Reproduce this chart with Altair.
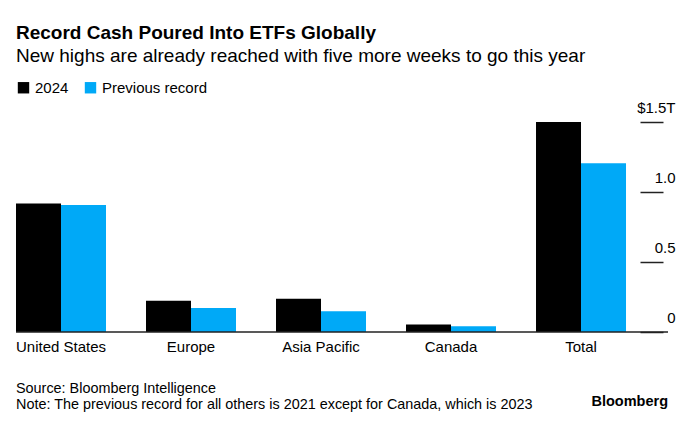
import altair as alt
import pandas as pd

regions = ["United States", "Europe", "Asia Pacific", "Canada", "Total"]
series_names = ["2024", "Previous record"]
values_2024 = [0.917, 0.223, 0.237, 0.053, 1.50]
values_prev = [0.907, 0.171, 0.149, 0.041, 1.205]
colors = ["#000000", "#00A9F7"]

title_text = "Record Cash Poured Into ETFs Globally"
subtitle_text = "New highs are already reached with five more weeks to go this year"
source_text = "Source: Bloomberg Intelligence"
note_text = "Note: The previous record for all others is 2021 except for Canada, which is 2023"
brand_text = "Bloomberg"

rows = []
for r, a, b in zip(regions, values_2024, values_prev):
    rows.append({"region": r, "series": series_names[0], "value": a})
    rows.append({"region": r, "series": series_names[1], "value": b})
df = pd.DataFrame(rows)

FONT = "Liberation Sans"
NB = "\u00a0"

bars = alt.Chart(df).mark_bar().encode(
    x=alt.X(
        "region:N",
        sort=regions,
        scale=alt.Scale(paddingInner=0.3077, paddingOuter=0.1615, align=0),
        axis=alt.Axis(
            title=None, ticks=False, domain=False, labelAngle=0,
            labelFontSize=15, labelColor="#000000", labelPadding=7, labelFont=FONT,
        ),
    ),
    xOffset=alt.XOffset("series:N", sort=series_names, scale=alt.Scale(paddingInner=0, paddingOuter=0)),
    y=alt.Y(
        "value:Q",
        scale=alt.Scale(domain=[0, 1.5], nice=False),
        axis=alt.Axis(
            orient="right", offset=-28, title=None, domain=False, grid=False,
            values=[0, 0.5, 1.0, 1.5], tickSize=23, tickColor="#222222", tickWidth=1.5,
            labelAlign="right", labelPadding=12, labelBaseline="alphabetic", labelOffset=-10,
            labelFontSize=15, labelColor="#000000", labelFont=FONT,
            labelExpr="datum.value == 1.5 ? '$1.5T' : ((datum.value == 0 ? '0' : format(datum.value, '.1f')) + '" + NB * 3 + "')",
        ),
    ),
    color=alt.Color(
        "series:N",
        sort=series_names,
        scale=alt.Scale(domain=series_names, range=colors),
        legend=alt.Legend(
            title=None, orient="none", legendX=0, legendY=-42, direction="horizontal",
            symbolType="square", symbolSize=130, symbolStrokeWidth=0, labelFontSize=15,
            labelFont=FONT, labelColor="#000000", columnPadding=14, symbolOpacity=1,
        ),
    ),
)

baseline = alt.Chart(pd.DataFrame({"v": [0]})).mark_rule(color="#222222", strokeWidth=1.5).encode(y="v:Q")

footer = alt.Chart(pd.DataFrame({"t": [source_text]})).mark_text(
    align="left", baseline="alphabetic", fontSize=14.4, font=FONT, color="#000000"
).encode(text="t:N", x=alt.value(0), y=alt.value(271))

footer2 = alt.Chart(pd.DataFrame({"t": [note_text]})).mark_text(
    align="left", baseline="alphabetic", fontSize=14.4, font=FONT, color="#000000"
).encode(text="t:N", x=alt.value(0), y=alt.value(287))

brand = alt.Chart(pd.DataFrame({"t": [brand_text]})).mark_text(
    align="right", baseline="alphabetic", fontSize=14.5, font=FONT, fontWeight="bold", color="#000000"
).encode(text="t:N", x=alt.value(652), y=alt.value(284))

chart = alt.layer(bars, baseline, footer, footer2, brand).properties(
    width=652,
    height=210,
    autosize=alt.AutoSizeParams(type="none"),
    padding={"left": 8, "top": 114, "right": 14, "bottom": 92},
    title=alt.TitleParams(
        text=title_text, subtitle=subtitle_text, anchor="start", frame="group",
        fontSize=19, fontWeight="bold", font=FONT, color="#000000",
        subtitleFontSize=19, subtitleFont=FONT, subtitleColor="#000000", subtitlePadding=4,
        dx=0, offset=14,
    ),
).configure_view(stroke=None)

chart.save("out.html", embed_options={"renderer": "svg", "actions": False})
